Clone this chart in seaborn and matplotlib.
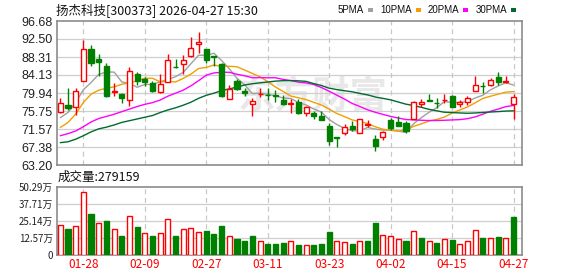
import numpy as np
import pandas as pd
import matplotlib
matplotlib.use("Agg")
import matplotlib.pyplot as plt
import seaborn as sns

# ---------------- data ----------------
dates = ["01-23", "01-26", "01-27", "01-28", "01-29", "01-30",
         "02-02", "02-03", "02-04", "02-05", "02-06",
         "02-09", "02-10", "02-11", "02-12", "02-13",
         "02-24", "02-25", "02-26", "02-27",
         "03-02", "03-03", "03-04", "03-05", "03-06",
         "03-09", "03-10", "03-11", "03-12", "03-13",
         "03-16", "03-17", "03-18", "03-19", "03-20",
         "03-23", "03-24", "03-25", "03-26", "03-27",
         "03-30", "03-31", "04-01", "04-02", "04-03",
         "04-07", "04-08", "04-09", "04-10",
         "04-13", "04-14", "04-15", "04-16", "04-17",
         "04-20", "04-21", "04-22", "04-23", "04-24", "04-27"]

opens = [75.41, 77.19, 76.57, 82.84, 90.18, 87.79, 86.16, 80.21, 79.67, 78.27,
         84.46, 83.15, 82.37, 80.28, 82.45, 86.08, 86.63, 88.56, 91.42, 90.11,
         88.48, 86.63, 78.43, 82.76, 80.36, 77.27, 79.67, 79.59, 79.36, 78.27,
         77.27, 77.96, 75.33, 75.33, 74.64, 72.24, 69.61, 70.54, 72.16, 70.54,
         72.55, 69.22, 69.61, 73.63, 73.25, 72.94, 73.94, 77.27, 78.35, 77.73,
         78.20, 79.20, 77.27, 77.96, 80.36, 81.68, 81.83, 83.61, 82.53, 77.27]
closes = [77.73, 76.50, 80.44, 90.26, 86.94, 87.17, 79.28, 80.36, 78.89, 85.08,
          82.76, 82.53, 80.44, 81.98, 87.71, 85.93, 87.71, 90.34, 91.89, 87.63,
          88.33, 79.20, 80.83, 80.83, 79.97, 78.12, 79.82, 79.43, 79.20, 77.35,
          77.50, 75.18, 76.57, 74.48, 73.71, 68.84, 69.46, 72.09, 71.55, 73.79,
          72.70, 67.68, 70.85, 71.78, 72.32, 71.16, 77.96, 77.81, 78.05, 77.58,
          78.35, 76.80, 77.96, 78.89, 81.91, 81.52, 83.07, 82.53, 82.68, 79.12]
highs = [78.89, 81.06, 81.21, 92.27, 91.03, 88.95, 87.01, 82.37, 79.97, 86.01,
         84.77, 83.69, 82.76, 84.46, 89.10, 87.86, 88.72, 92.89, 94.13, 90.20,
         88.55, 87.01, 81.83, 83.30, 81.06, 78.89, 81.06, 81.06, 80.75, 79.59,
         78.58, 78.51, 76.96, 75.80, 75.64, 72.86, 69.77, 72.70, 73.32, 73.94,
         73.63, 70.23, 71.16, 74.10, 74.48, 73.48, 78.12, 78.51, 79.70, 78.89,
         79.82, 79.36, 78.27, 79.20, 83.84, 82.45, 83.38, 84.92, 83.92, 79.67]
lows = [75.26, 76.03, 74.87, 82.84, 86.32, 83.92, 79.12, 79.28, 77.50, 76.96,
        81.83, 81.60, 80.28, 79.97, 82.45, 85.70, 84.46, 88.33, 89.18, 86.86,
        86.24, 79.05, 78.43, 80.59, 79.28, 74.64, 79.05, 78.27, 77.96, 77.19,
        75.26, 75.10, 74.64, 73.86, 73.71, 67.91, 67.40, 70.23, 71.16, 70.54,
        71.93, 66.36, 69.07, 71.31, 72.16, 70.69, 73.79, 76.57, 78.00, 76.50,
        77.50, 76.57, 76.80, 77.19, 80.36, 79.97, 81.68, 81.91, 82.37, 73.94]

ma5 = [74.20, 75.40, 77.70, 80.70, 82.37, 84.26, 84.82, 84.80, 82.53, 82.16,
       81.27, 81.92, 81.94, 82.56, 83.08, 83.72, 84.75, 86.73, 88.72, 88.70,
       89.18, 87.48, 85.58, 83.36, 81.83, 79.79, 79.91, 79.63, 79.31, 78.78,
       78.66, 77.73, 77.16, 76.22, 75.49, 73.76, 72.61, 71.72, 71.13, 71.15,
       71.92, 71.56, 71.31, 71.36, 71.07, 70.76, 72.81, 74.21, 75.46, 76.51,
       77.95, 77.72, 77.75, 77.92, 78.78, 79.42, 80.67, 81.58, 82.34, 81.78]
ma10 = [71.93, 73.09, 75.03, 77.73, 79.67, 80.59, 81.06, 81.37, 81.98, 82.27,
        82.77, 83.37, 83.37, 82.54, 82.62, 82.50, 83.34, 84.34, 85.64, 85.89,
        86.45, 86.12, 86.16, 86.04, 85.27, 84.49, 83.70, 82.61, 81.34, 80.31,
        79.23, 78.82, 78.40, 77.76, 77.14, 76.21, 75.17, 74.44, 73.67, 73.32,
        72.84, 72.09, 71.52, 71.25, 71.11, 71.34, 72.19, 72.76, 73.41, 73.79,
        74.35, 75.27, 75.98, 76.69, 77.65, 78.68, 79.19, 79.67, 80.13, 80.28]
ma20 = [70.00, 70.50, 71.10, 72.10, 73.20, 74.00, 74.50, 75.00, 75.60, 76.20,
        76.80, 77.30, 77.70, 78.30, 79.20, 79.90, 80.60, 81.60, 82.80, 84.08,
        84.61, 84.74, 84.76, 84.29, 83.94, 83.49, 83.52, 83.47, 83.49, 83.10,
        82.84, 82.47, 82.28, 81.90, 81.20, 80.35, 79.43, 78.52, 77.50, 76.81,
        76.03, 75.46, 74.96, 74.50, 74.12, 73.77, 73.68, 73.60, 73.54, 73.55,
        73.60, 73.68, 73.75, 73.97, 74.38, 75.01, 75.69, 76.21, 76.77, 77.04]
ma30 = [68.40, 68.60, 69.20, 70.00, 70.90, 71.60, 72.00, 72.50, 73.10, 73.50,
        73.90, 74.30, 74.70, 75.40, 76.00, 76.50, 77.10, 77.80, 78.70, 79.40,
        79.90, 80.50, 80.90, 81.30, 81.80, 82.10, 82.30, 82.50, 82.70, 82.80,
        82.81, 82.77, 82.64, 82.12, 81.67, 81.06, 80.74, 80.46, 80.22, 79.84,
        79.50, 79.01, 78.69, 78.35, 77.84, 77.34, 77.02, 76.60, 76.14, 75.80,
        75.47, 75.39, 75.30, 75.23, 75.30, 75.41, 75.52, 75.62, 75.74, 75.80]

volume = [22.4, 19.0, 21.7, 46.6, 30.0, 23.9, 24.9, 19.5, 13.9, 29.0,
          20.5, 16.6, 13.9, 16.6, 26.8, 13.9, 19.5, 20.2, 17.3, 17.6,
          15.4, 21.2, 14.4, 11.7, 10.2, 13.9, 10.7, 8.0, 8.0, 8.8,
          10.0, 7.3, 7.1, 7.3, 8.0, 16.8, 10.0, 9.3, 8.0, 10.0,
          10.2, 23.4, 15.1, 14.4, 12.2, 10.2, 18.0, 12.4, 10.7, 8.8,
          11.5, 11.0, 8.5, 10.0, 18.8, 12.4, 12.9, 13.2, 12.9, 27.9]
vol_up = [1, 0, 1, 1, 0, 1, 0, 1, 0, 1,
          0, 1, 0, 1, 1, 0, 1, 1, 1, 0,
          0, 0, 1, 0, 0, 0, 1, 0, 0, 0,
          1, 0, 1, 0, 0, 0, 1, 1, 0, 1,
          0, 0, 1, 1, 1, 0, 1, 0, 1, 0,
          1, 0, 1, 1, 1, 0, 1, 0, 1, 0]

price_ticks = [63.20, 67.38, 71.57, 75.75, 79.94, 84.13, 88.31, 92.50, 96.68]
vol_ticks = [0, 12.57, 25.14, 37.71, 50.29]
vol_tick_labels = ["0", "12.57万", "25.14万", "37.71万", "50.29万"]
date_ticks = ["01-28", "02-09", "02-27", "03-11", "03-23", "04-02", "04-15", "04-27"]
title = "扬杰科技[300373] 2026-04-27 15:30"
vol_title = "成交量:279159"
ma_names = ["5PMA", "10PMA", "20PMA", "30PMA"]
ma_colors = ["#a0a0a0", "#f0a000", "#ff00ff", "#006a30"]

# ---------------- style ----------------
sns.set_theme(style="white")
plt.rcParams["font.family"] = ["Noto Sans CJK SC", "DejaVu Sans"]
RED = "#ff0000"
GREEN = "#008000"
FRAME = "#8c8c8c"
GRID = "#cfcfcf"

W, H = 578, 276
fig = plt.figure(figsize=(W / 100, H / 100), dpi=100)
fig.patch.set_facecolor("white")

def px_axes(l, t, r, b):
    return fig.add_axes([l / W, 1 - b / H, (r - l) / W, (b - t) / H])

ax = px_axes(57, 21, 522, 165)
axv = px_axes(57, 187, 522, 255)

x = np.arange(len(dates))
o = np.array(opens); c = np.array(closes)
hi = np.array(highs); lo = np.array(lows)
up = c >= o
tick_pos = [dates.index(d) for d in date_ticks]

for a in (ax, axv):
    a.set_facecolor("white")
    a.set_xlim(-0.43, 60.1)
    for s in a.spines.values():
        s.set_color(FRAME)
        s.set_linewidth(1.2)
    a.tick_params(length=0)
    for p in tick_pos:
        a.axvline(p, color="#c8c8c8", lw=0.9, ls=(0, (4, 3)), zorder=0.5)

# watermark
ax.text(0.55, 0.47, "东方财富", transform=ax.transAxes, fontsize=27,
        color="#e8e8e8", ha="center", va="center", fontweight="bold", zorder=0.3)

# price grid
ax.set_ylim(63.20, 96.68)
ax.set_yticks(price_ticks)
ax.set_yticklabels([f"{v:.2f}" for v in price_ticks], family=["Liberation Sans"],
                   fontsize=9, color="#222222")
for v in price_ticks[1:-1]:
    ax.axhline(v, color=GRID, lw=0.9, zorder=0.4)
ax.set_xticks([])
ax.tick_params(axis="y", pad=3)

# MA lines via seaborn
ma_df = pd.DataFrame({
    "x": np.tile(x, 4),
    "value": np.concatenate([ma5, ma10, ma20, ma30]),
    "ma": np.repeat(ma_names, len(x)),
})
sns.lineplot(data=ma_df, x="x", y="value", hue="ma", palette=dict(zip(ma_names, ma_colors)),
             linewidth=1.0, legend=False, ax=ax, zorder=2)

# candles
bw = 0.66
wick_col = np.where(up, RED, GREEN)
ax.vlines(x, lo, hi, colors=wick_col, lw=1.0, zorder=3)
body_bottom = np.minimum(o, c)
body_h = np.maximum(np.abs(c - o), 0.12)
ax.bar(x[up], body_h[up], bottom=body_bottom[up], width=bw, facecolor="white",
       edgecolor=RED, linewidth=1.0, zorder=4)
ax.bar(x[~up], body_h[~up], bottom=body_bottom[~up], width=bw, facecolor=GREEN,
       edgecolor=GREEN, linewidth=1.0, zorder=4)
ax.set_xlabel(""); ax.set_ylabel("")

# volume
v = np.array(volume); vu = np.array(vol_up).astype(bool)
axv.set_ylim(0, 50.29)
axv.set_yticks(vol_ticks)
axv.set_yticklabels(vol_tick_labels, fontsize=7, color="#222222")
for t in vol_ticks[1:-1]:
    axv.axhline(t, color=GRID, lw=0.9, zorder=0.4)
axv.bar(x[vu], v[vu], width=bw, facecolor="white", edgecolor=RED, linewidth=1.0, zorder=3)
axv.bar(x[~vu], v[~vu], width=bw, facecolor=GREEN, edgecolor=GREEN, linewidth=1.0, zorder=3)
axv.set_xticks(tick_pos)
axv.set_xticklabels(date_ticks, fontsize=8.5, color=RED)
axv.tick_params(axis="x", pad=2)
axv.tick_params(axis="y", pad=3)

# titles
fig.text(56 / W, 1 - 10 / H, title, fontsize=9, color="#111111", va="center", ha="left")
fig.text(58 / W, 1 - 177 / H, vol_title, fontsize=9, color="#111111", va="center", ha="left")

# legend: label, then a small colour square, placed one after another
renderer = fig.canvas.get_renderer()
cur = 338.0
for name, col in zip(ma_names, ma_colors):
    t = fig.text(cur / W, 1 - 10 / H, name, fontsize=7, color="#111111", va="center", ha="left",
                 family=["Liberation Sans"])
    bb = t.get_window_extent(renderer)
    sq_left = bb.x1 + 4
    fig.patches.append(plt.Rectangle((sq_left / W, 1 - 12 / H), 5 / W, 4 / H,
                                     transform=fig.transFigure, facecolor=col, edgecolor="none"))
    cur = sq_left + 5 + 7

fig.savefig("out.png", dpi=100, facecolor="white")
